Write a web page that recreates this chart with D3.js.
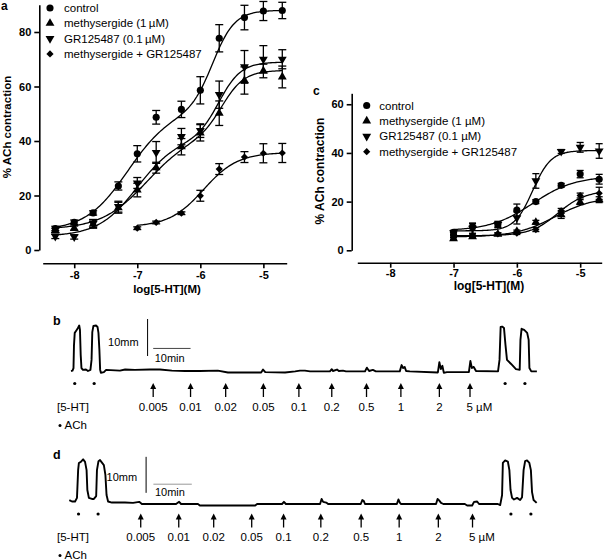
<!DOCTYPE html>
<html><head><meta charset="utf-8">
<script src="https://cdn.jsdelivr.net/npm/d3@7"></script>
<style>
body{margin:0;background:#fff}
svg{display:block}
text{font-family:"Liberation Sans",Arial,Helvetica,sans-serif;fill:#000}
</style>
</head><body>
<svg id="chart" width="612" height="560"></svg>
<script>
// ---------------- DATA ----------------
const legendA = ["control","methysergide (1\u2009\u00b5M)","GR125487 (0.1\u2009\u00b5M)","methysergide + GR125487"];
const legendC = ["control","methysergide (1 \u00b5M)","GR125487 (0.1 \u00b5M)","methysergide + GR125487"];
const xTicks = [-8,-7,-6,-5];
const yTicksA = [0,20,40,60,80];
const yTicksC = [0,20,40,60];

// Panel a (log[5-HT] M, % ACh contraction, SEM)
const logA = [-8.3,-8,-7.7,-7.3,-7,-6.7,-6.3,-6,-5.7,-5.3,-5,-4.7];
const logComboA = [-7,-6.7,-6.3,-6,-5.7,-5.3,-5,-4.7];
const controlA = [7.9,10.2,13.6,23.5,35.3,48.7,51.6,58.6,77.7,85.3,87.7,87.9];
const controlAErr = [0.8,0.8,0.8,1.5,3,2.5,3,5,5,4.5,3.5,3];
const methA = [7.2,8.0,9.5,15.5,22.0,30.2,37.9,43.0,50.2,62.2,65.7,63.5];
const methAErr = [0.8,0.8,1.5,2,2.5,2,3,3,4.5,5,2.5,4];
const grA = [5.0,4.8,9.7,15.9,24.6,35.8,41.6,43.8,57.0,67.2,70.0,70.0];
const grAErr = [0.8,0.8,1.5,2,2,4,3,2.5,5,6,5,3.5];
const comboA = [8.0,10.1,13.5,19.9,29.7,34.1,35.5,35.6];
const comboAErr = [0.5,0.5,0.5,2,2,2,3.5,3.5];
// fitted curve parameters: [bottom, span1, logEC50_1, hill1, span2, logEC50_2, hill2]
const fitControlA = [7,44,-7.15,1.3,37,-5.8,2.5];
const fitMethA = [7.5,35,-6.85,1.2,23.5,-5.65,2.5];
const fitGrA = [5,36,-7.0,1.4,28,-5.7,2.5];
const fitComboA = [8.5,27.3,-5.95,1.6,0,-5,1];

// Panel c
const logC = [-7,-6.7,-6.3,-6,-5.7,-5.3,-5,-4.7];
const controlC = [7.4,9.7,10.6,16.5,20.0,26.7,31.3,29.2];
const controlCErr = [0.8,1.5,1,2.5,0.8,0.8,1.5,2];
const methC = [4.8,5.6,6.6,7.8,11.5,14.6,19.8,20.8];
const methCErr = [0.5,0.5,0.5,0.5,0.8,1.5,1,1.2];
const grC = [7.2,9.0,10.6,13.3,28.5,40.6,42.3,40.8];
const grCErr = [0.8,2,1.3,2.5,3,0.8,2,3];
const comboC = [5.6,6.2,6.7,7.0,8.5,16.2,22.5,23.4];
const comboCErr = [0.5,0.5,0.5,0.5,0.8,1,1,2.5];
const fitControlC = [8,22.5,-5.75,1.3,0,-5,1];
const fitMethC = [5.5,16.5,-5.4,1.4,0,-5,1];
const fitGrC = [8,33,-5.75,3,0,-5,1];
const fitComboC = [6,18.5,-5.35,2,0,-5,1];

// Traces: [time (min), tension (mm)]
const traceB = [[0,0],[0.4,0.1],[0.67,0.8],[0.8,7.0],[1.0,10.3],[1.34,10.8],[1.74,11.4],[2.0,11.9],[2.2,12.3],[2.4,11.1],[2.6,4.3],[2.8,0.8],[3.2,0.3],[4.0,0.4],[4.55,0],[5.2,0.3],[5.5,3.0],[5.7,10.5],[6.0,12.2],[6.7,12.3],[7.1,11.9],[7.35,10.3],[7.6,5.7],[7.8,0.3],[8.0,-0.5],[8.8,-0.3],[9.4,0.3],[13.1,0.1],[14.5,0.4],[17.1,0.3],[21.1,0.4],[23.8,0.4],[27,0.1],[30.5,0],[34.5,0],[39.3,0.1],[42,-0.4],[47.9,-0.4],[50.9,-0.4],[51.4,0.4],[52,-0.3],[57.3,-0.4],[60,-0.1],[61.3,0.1],[62.6,0.1],[64,-0.1],[69.3,-0.1],[69.8,0.5],[70.1,0],[71.2,0.4],[71.7,0],[72.8,0.1],[73.6,-0.1],[78.7,-0.1],[79.2,0.9],[79.8,0],[80.8,0.3],[81.6,-0.1],[88.0,-0.1],[88.5,1.6],[88.9,0.8],[89.3,1.1],[89.7,0],[90.7,-0.1],[98.2,-0.4],[98.6,2.4],[99.0,0.5],[99.4,1.4],[99.8,-0.5],[100.6,-0.3],[106.5,-0.3],[106.9,2.7],[107.3,0.8],[107.8,1.1],[108.4,0],[114.3,-0.1],[114.7,3.0],[115.0,11.9],[115.4,12.0],[115.9,11.6],[116.3,7.0],[116.7,3.0],[117.8,1.9],[119.1,0.5],[120.1,0.3],[120.3,8.4],[120.6,11.4],[121.3,11.1],[122.1,10.3],[122.5,8.4],[122.7,0.8],[123.2,-0.1],[124.7,-0.1]];
const traceD = [[0,1.1],[0.7,0.7],[1.5,0.7],[2.0,1.7],[2.3,9.4],[2.5,11.4],[3.0,11.7],[3.6,12.4],[4.1,11.7],[4.5,9.4],[4.7,3.9],[5.1,1.7],[5.9,1.4],[6.4,1.4],[7.0,2.2],[7.2,9.4],[7.6,11.9],[8.0,12.2],[8.5,11.5],[9.0,10.8],[9.4,8.1],[9.7,2.5],[10.1,0.7],[11.1,0.4],[14.5,0.4],[16.6,0.3],[18.2,0.6],[18.9,0],[27.8,0],[28.6,0.6],[29.1,0],[33.5,0],[34.0,-0.4],[48.4,-0.4],[48.9,0],[55.4,0],[55.9,0.6],[56.4,0],[65.3,0],[65.7,1.4],[66.1,0.6],[66.9,0.4],[67.4,0],[75.9,0],[76.3,1.1],[76.7,0.8],[77.0,0],[85.3,0],[85.7,1.25],[86.1,0.3],[86.4,0],[95.5,0],[95.9,1.4],[96.3,1.0],[96.8,0.3],[97.4,0],[103.0,0],[103.6,-0.4],[104.9,-0.4],[105.4,0.6],[106.2,0.7],[106.7,0],[111.6,0],[112.2,-0.3],[112.7,2.5],[112.9,11.4],[113.5,12.1],[114.2,11.8],[114.6,9.4],[114.9,3.9],[115.3,1.7],[115.8,1.25],[116.6,1.7],[117.4,1.1],[117.9,1.9],[118.3,9.4],[118.7,11.9],[119.2,12.1],[119.8,11.4],[120.2,9.4],[120.5,3.3],[120.9,1.1],[121.7,0.3]];
const doseLabels = ["0.005","0.01","0.02","0.05","0.1","0.2","0.5","1","2","5"];
const doseTimesB = [22,32,41.4,51.5,61,69.8,79.1,88.3,98.6,106.8];
const doseTimesD = [18.6,28.5,37.6,47.5,55.8,65.5,76.0,85.9,96.1,105.0];
const achTimesB = [1.0,6.2,116.2,121.5];
const achTimesD = [2.4,7.5,115.0,120.2];

// ---------------- DRAWING ----------------
const svg = d3.select("#chart");
const symbols = [
  {type:d3.symbolCircle, size:40, rot:0},
  {type:d3.symbolTriangle, size:34, rot:0},
  {type:d3.symbolTriangle, size:34, rot:180},
  {type:d3.symbolSquare, size:26, rot:45}
];
function biphasic(x,p){
  return p[0] + p[1]/(1+Math.pow(10,(p[2]-x)*p[3])) + p[4]/(1+Math.pow(10,(p[5]-x)*p[6]));
}

function panel(cfg){
  const g = svg.append("g");
  const x = d3.scaleLinear().domain(cfg.xDom).range([cfg.x0,cfg.x1]);
  const y = d3.scaleLinear().domain(cfg.yDom).range([cfg.yBot,cfg.yTop]);
  // axes
  const ya = g.append("g").attr("transform",`translate(${cfg.yAxisX},0)`)
    .call(d3.axisLeft(y).tickValues(cfg.yTicks).tickSize(5).tickPadding(3).tickSizeOuter(0));
  const xa = g.append("g").attr("transform",`translate(0,${cfg.xAxisY})`)
    .call(d3.axisBottom(x).tickValues(xTicks).tickSize(5).tickPadding(cfg.xPad).tickSizeOuter(0));
  [ya,xa].forEach(a=>{
    a.selectAll("path,line").attr("stroke","#000").attr("stroke-width",1.6);
    a.selectAll("text").attr("font-size",11).attr("font-weight","bold").attr("fill","#000")
      .text(d=>d<0? "-"+Math.abs(d) : d);
  });
  g.append("text").attr("x",cfg.xLabelX).attr("y",cfg.xLabelY).attr("text-anchor","middle")
    .attr("font-size",cfg.labelSize).attr("font-weight","bold").text("log[5-HT](M)");
  g.append("text").attr("transform",`translate(${cfg.yLabelX},${cfg.yLabelY}) rotate(-90)`)
    .attr("text-anchor","middle").attr("font-size",cfg.labelSize).attr("font-weight","bold").text("% ACh contraction");
  g.append("text").attr("x",cfg.letterX).attr("y",cfg.letterY).attr("font-size",12).attr("font-weight","bold").text(cfg.letter);

  const line = d3.line().x(d=>x(d[0])).y(d=>y(d[1]));
  cfg.series.forEach((s,i)=>{
    // fitted curve
    const xs = d3.range(s.xs[0], s.xs[s.xs.length-1]+0.001, 0.02);
    g.append("path").datum(xs.map(v=>[v,biphasic(v,s.fit)]))
      .attr("fill","none").attr("stroke","#000").attr("stroke-width",1.3).attr("d",line);
    // error bars
    const eb = g.append("g").attr("stroke","#000").attr("stroke-width",1.3);
    s.xs.forEach((xv,j)=>{
      const e = s.err[j]; if(!e) return;
      const cx = x(xv), y1 = y(s.ys[j]+e), y2 = y(s.ys[j]-e), w = cfg.cap;
      eb.append("line").attr("x1",cx).attr("x2",cx).attr("y1",y1).attr("y2",y2);
      eb.append("line").attr("x1",cx-w).attr("x2",cx+w).attr("y1",y1).attr("y2",y1);
      eb.append("line").attr("x1",cx-w).attr("x2",cx+w).attr("y1",y2).attr("y2",y2);
    });
    // markers
    const sym = symbols[i];
    g.append("g").selectAll("path").data(s.xs.map((v,j)=>[v,s.ys[j]])).join("path")
      .attr("d",d3.symbol().type(sym.type).size(sym.size))
      .attr("transform",d=>`translate(${x(d[0])},${y(d[1])}) rotate(${sym.rot})`)
      .attr("fill","#000");
  });
  // legend
  cfg.legend.forEach((name,i)=>{
    const sym = symbols[i];
    const ly = cfg.legY + i*cfg.legStep;
    g.append("path").attr("d",d3.symbol().type(sym.type).size(sym.size))
      .attr("transform",`translate(${cfg.legMarkX},${ly}) rotate(${sym.rot})`).attr("fill","#000");
    g.append("text").attr("x",cfg.legTextX).attr("y",ly).attr("dy","0.36em")
      .attr("font-size",11.5).text(name);
  });
}

panel({
  xDom:[-8.5,-4.63], yDom:[0,90], x0:42.7, x1:286.7, yTop:4.75, yBot:250,
  yAxisX:39.3, xAxisY:263.3, yTicks:yTicksA, labelSize:11.5, xPad:3,
  xLabelX:167, xLabelY:293, yLabelX:11, yLabelY:127,
  letter:"a", letterX:1, letterY:10, cap:4,
  legend:legendA, legY:8, legStep:15.3, legMarkX:50, legTextX:64,
  series:[
    {xs:logA, ys:controlA, err:controlAErr, fit:fitControlA},
    {xs:logA, ys:methA, err:methAErr, fit:fitMethA},
    {xs:logA, ys:grA, err:grAErr, fit:fitGrA},
    {xs:logComboA, ys:comboA, err:comboAErr, fit:fitComboA}
  ]
});
panel({
  xDom:[-8.52,-4.66], yDom:[0,64.5], x0:357.3, x1:601.7, yTop:93.3, yBot:250.3,
  yAxisX:351.7, xAxisY:262.7, yTicks:yTicksC, labelSize:12, xPad:1.5,
  xLabelX:489, xLabelY:289.5, yLabelX:324, yLabelY:171,
  letter:"c", letterX:313, letterY:95, cap:3.5,
  legend:legendC, legY:105.5, legStep:15.4, legMarkX:366.7, legTextX:379.3,
  series:[
    {xs:logC, ys:controlC, err:controlCErr, fit:fitControlC},
    {xs:logC, ys:methC, err:methCErr, fit:fitMethC},
    {xs:logC, ys:grC, err:grCErr, fit:fitGrC},
    {xs:logC, ys:comboC, err:comboCErr, fit:fitComboC}
  ]
});

function tracePanel(cfg){
  const g = svg.append("g");
  const t = d3.scaleLinear().domain(cfg.tDom).range(cfg.tRange);
  const a = d3.scaleLinear().domain([0,12.5]).range(cfg.aRange);
  g.append("text").attr("x",cfg.letterX).attr("y",cfg.letterY).attr("font-size",12.5).attr("font-weight","bold").text(cfg.letter);
  g.append("path").datum(cfg.trace).attr("fill","none").attr("stroke","#000").attr("stroke-width",1.9)
    .attr("stroke-linejoin","round")
    .attr("d",d3.line().x(d=>t(d[0])).y(d=>a(d[1])));
  // scale bars
  const sb = cfg.bar;
  g.append("line").attr("x1",t(sb.vt)).attr("x2",t(sb.vt)).attr("y1",a(sb.va0)).attr("y2",a(sb.va0+10))
    .attr("stroke","#000").attr("stroke-width",1);
  g.append("line").attr("x1",t(sb.ht)).attr("x2",t(sb.ht+10)).attr("y1",a(sb.ha)).attr("y2",a(sb.ha))
    .attr("stroke",cfg.hColor).attr("stroke-width",1);
  g.append("text").attr("x",t(sb.vt)-9).attr("y",cfg.mmY).attr("text-anchor","end").attr("font-size",11).text("10mm");
  g.append("text").attr("x",t(sb.ht)+1.5).attr("y",cfg.minY).attr("font-size",11).text("10min");
  // ACh dots
  g.append("g").selectAll("circle").data(cfg.ach).join("circle")
    .attr("cx",d=>t(d)).attr("cy",cfg.dotY).attr("r",1.6).attr("fill","#000");
  // arrows
  cfg.doses.forEach((d,i)=>{
    const cx = t(d);
    g.append("line").attr("x1",cx).attr("x2",cx).attr("y1",cfg.arrowTip+4).attr("y2",cfg.arrowTip+14)
      .attr("stroke","#000").attr("stroke-width",1.3);
    g.append("path").attr("d",`M${cx},${cfg.arrowTip}L${cx-3},${cfg.arrowTip+6}L${cx+3},${cfg.arrowTip+6}Z`).attr("fill","#000");
    const last = i===doseLabels.length-1;
    g.append("text").attr("x",last? cx-3.5 : cx).attr("y",cfg.labelY)
      .attr("text-anchor",last?"start":"middle").attr("font-size",11.5)
      .text(last? doseLabels[i]+" \u00b5M" : doseLabels[i]);
  });
  g.append("text").attr("x",57).attr("y",cfg.labelY).attr("font-size",11.5).text("[5-HT]");
  g.append("circle").attr("cx",60).attr("cy",cfg.achY-3.5).attr("r",1.5).attr("fill","#000");
  g.append("text").attr("x",64.5).attr("y",cfg.achY).attr("font-size",11.5).text("ACh");
}

tracePanel({
  letter:"b", letterX:53, letterY:325, trace:traceB,
  tDom:[0,125], tRange:[71,538], aRange:[371,324.75],
  bar:{vt:20.5, va0:4.05, ht:22, ha:6.1}, hColor:"#444", mmY:346, minY:362,
  ach:achTimesB, dotY:383.5, doses:doseTimesB, arrowTip:383, labelY:411, achY:429
});
tracePanel({
  letter:"d", letterX:53, letterY:459, trace:traceD,
  tDom:[0,122], tRange:[69.3,537.8], aRange:[504,459],
  bar:{vt:20, va0:3.1, ht:21.9, ha:5.5}, hColor:"#999", mmY:481, minY:496,
  ach:achTimesD, dotY:514, doses:doseTimesD, arrowTip:513.5, labelY:541, achY:559
});
</script>
</body></html>
